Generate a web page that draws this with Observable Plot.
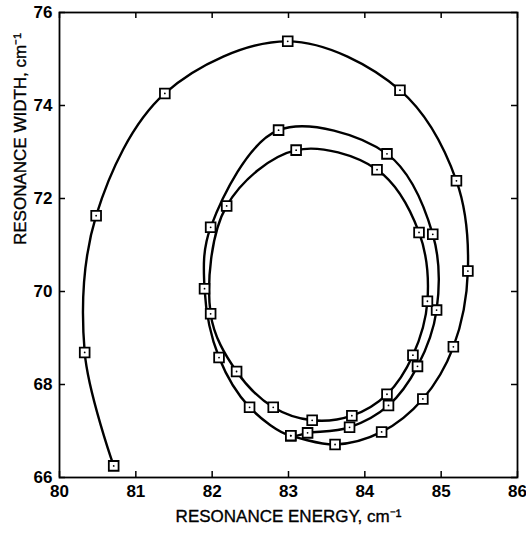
<!DOCTYPE html>
<html><head><meta charset="utf-8">
<script src="https://cdn.jsdelivr.net/npm/d3@7"></script>
<script src="https://cdn.jsdelivr.net/npm/@observablehq/plot@0.6"></script>
<style>
body{margin:0;background:#fff}
svg{font-family:"Liberation Sans",Arial,sans-serif}
</style>
</head><body><div id="chart"></div>
<script>
const xTicks = [80, 81, 82, 83, 84, 85, 86];
const yTicks = [66, 68, 70, 72, 74, 76];
const xLabel = "RESONANCE ENERGY, cm\u207B\u00B9";
const yLabel = "RESONANCE WIDTH, cm\u207B\u00B9";

// outer (open) trajectory
const outerX = [80.71, 80.33, 80.48, 81.38, 82.99, 84.46, 85.20, 85.35, 85.16, 84.76, 84.22, 83.61, 83.03];
const outerY = [66.25, 68.69, 71.63, 74.26, 75.38, 74.33, 72.38, 70.44, 68.81, 67.69, 66.98, 66.71, 66.90];
// middle loop
const loopAX = [83.03, 82.49, 82.09, 81.90, 81.98, 82.87, 84.29, 84.89, 84.94, 84.69, 84.31, 83.80, 83.25];
const loopAY = [66.90, 67.51, 68.58, 70.06, 71.38, 73.47, 72.96, 71.23, 69.60, 68.39, 67.55, 67.08, 66.96];
// inner loop
const loopBX = [83.31, 82.80, 82.32, 81.98, 82.19, 83.10, 84.16, 84.71, 84.82, 84.63, 84.29, 83.83];
const loopBY = [67.23, 67.51, 68.28, 69.52, 71.84, 73.04, 72.62, 71.27, 69.79, 68.63, 67.79, 67.33];

const toPts = (xs, ys) => xs.map((x, i) => ({x, y: ys[i]}));
const outer = toPts(outerX, outerY);
const loopA = toPts(loopAX, loopAY);
const loopB = toPts(loopBX, loopBY);
const all = [...outer, ...loopA, ...loopB];

const W = 526, H = 533, ML = 59, MR = 9, MT = 12, MB = 56;
const frameW = W - ML - MR, frameH = H - MT - MB, TICK = 6;
const lineStyle = {x: "x", y: "y", stroke: "black", strokeWidth: 2.4};
const labelStyle = {text: d => d, fontSize: 17, letterSpacing: "0.5px", fill: "black", stroke: "black", strokeWidth: 0.35};

const chart = Plot.plot({
  width: W, height: H,
  marginLeft: ML, marginRight: MR, marginTop: MT, marginBottom: MB,
  x: {domain: [80, 86]},
  y: {domain: [66, 76]},
  style: {fontFamily: "'Liberation Sans', Arial, sans-serif", fontSize: "17px", color: "black", background: "white"},
  marks: [
    Plot.axisX(xTicks, {anchor: "bottom", tickSize: 0, tickPadding: 7, label: null, fontWeight: "bold", fontSize: 17}),
    Plot.axisY(yTicks, {anchor: "left", tickSize: 0, tickPadding: 7, label: null, fontWeight: "bold", fontSize: 17}),
    // inward tick marks on all four sides
    Plot.ruleX(xTicks, {x: d => d, insetTop: frameH - TICK, stroke: "black", strokeWidth: 1.5}),
    Plot.ruleX(xTicks, {x: d => d, insetBottom: frameH - TICK, stroke: "black", strokeWidth: 1.5}),
    Plot.ruleY(yTicks, {y: d => d, insetRight: frameW - TICK, stroke: "black", strokeWidth: 1.5}),
    Plot.ruleY(yTicks, {y: d => d, insetLeft: frameW - TICK, stroke: "black", strokeWidth: 1.5}),
    Plot.frame({stroke: "black", strokeWidth: 1.8}),
    Plot.line(outer, {...lineStyle, curve: "catmull-rom"}),
    Plot.line(loopA, {...lineStyle, curve: "catmull-rom-closed"}),
    Plot.line(loopB, {...lineStyle, curve: "catmull-rom-closed"}),
    Plot.dot(all, {x: "x", y: "y", symbol: "square", r: 5.5, fill: "white", stroke: "black", strokeWidth: 1.8}),
    Plot.dot(all, {x: "x", y: "y", r: 0.9, fill: "black"}),
    Plot.text([xLabel], {...labelStyle, frameAnchor: "bottom", dy: 44}),
    Plot.text([yLabel], {...labelStyle, frameAnchor: "left", dx: -39, rotate: -90})
  ]
});
document.getElementById("chart").appendChild(chart);
</script>
</body></html>
